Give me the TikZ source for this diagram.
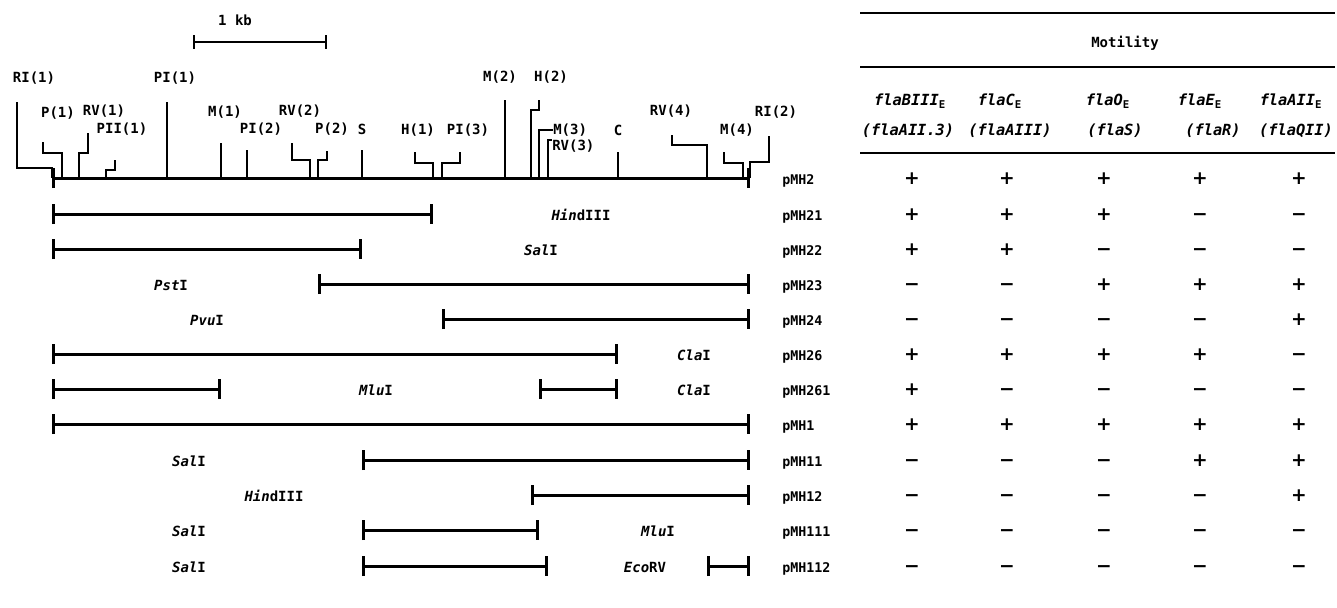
\documentclass[tikz,border=0pt]{standalone}
\usepackage{fontspec}
\setmainfont{DejaVu Sans Mono}
\newfontfamily\signfont{DejaVu Sans}
\usetikzlibrary{arrows.meta}

\tikzset{
  site/.style={font=\bfseries\fontsize{10.5}{12}\selectfont, inner sep=0pt},
  leader/.style={line width=1.5pt},
  fragment/.style={line width=2.25pt, {Bar[width=15pt]}-{Bar[width=15pt]}},
  scalebar/.style={line width=1.5pt, {Bar[width=10pt]}-{Bar[width=10pt]}},
  enzyme/.style={font=\bfseries\fontsize{10.5}{12}\selectfont, inner sep=0pt},
  plasmid/.style={font=\bfseries\fontsize{10}{12}\selectfont, anchor=west, inner sep=0pt},
  gene/.style={font=\bfseries\itshape\fontsize{11.5}{13}\selectfont, inner sep=0pt},
  sign/.style={font=\signfont\bfseries\fontsize{14}{14}\selectfont, inner sep=0pt,
    text height=9pt, text depth=0pt},
  tablerule/.style={line width=1.5pt},
}

\begin{document}
\begin{tikzpicture}[x=0.75pt, y=-0.75pt]
      \useasboundingbox (0,0) rectangle (1337,607);

      % Scale bar
      \node[site] (kb) at (235,20) {1 kb};
      \coordinate (kbl) at (193,42);
      \coordinate (kbr) at (327,42);
      \draw[scalebar] (kbl) -- (kbr);

      % Rows
      \coordinate (row2) at (0,178);
      \coordinate (row21) at (0,214);
      \coordinate (row22) at (0,249);
      \coordinate (row23) at (0,284);
      \coordinate (row24) at (0,319);
      \coordinate (row26) at (0,354);
      \coordinate (row261) at (0,389);
      \coordinate (row1) at (0,424);
      \coordinate (row11) at (0,460);
      \coordinate (row12) at (0,495);
      \coordinate (row111) at (0,530);
      \coordinate (row112) at (0,566);

      % Sites on the map
      \coordinate (RI1) at (52,178);
      \coordinate (P1) at (62,178);
      \coordinate (RV1) at (79,178);
      \coordinate (PII1) at (106,178);
      \coordinate (PI1) at (167,178);
      \coordinate (M1) at (221,178);
      \coordinate (PI2) at (247,178);
      \coordinate (RV2) at (310,178);
      \coordinate (P2) at (318,178);
      \coordinate (S) at (362,178);
      \coordinate (H1) at (433,178);
      \coordinate (PI3) at (442,178);
      \coordinate (M2) at (505,178);
      \coordinate (H2) at (531,178);
      \coordinate (M3) at (539,178);
      \coordinate (RV3) at (548,178);
      \coordinate (C) at (618,178);
      \coordinate (RV4) at (707,178);
      \coordinate (M4) at (743,178);
      \coordinate (RI2) at (750,178);

      %% Labels
      \node[site] (lRI1) at (34,78) {RI(1)};
      \node[site] (lP1) at (58,113) {P(1)};
      \node[site] (lRV1) at (104,111) {RV(1)};
      \node[site] (lPII1) at (122,129) {PII(1)};
      \node[site] (lPI1) at (175,78) {PI(1)};
      \node[site] (lM1) at (225,112) {M(1)};
      \node[site] (lPI2) at (261,129) {PI(2)};
      \node[site] (lRV2) at (300,111) {RV(2)};
      \node[site] (lP2) at (332,129) {P(2)};
      \node[site] (lS) at (362,129) {S};
      \node[site] (lH1) at (418,130) {H(1)};
      \node[site] (lPI3) at (468,130) {PI(3)};
      \node[site] (lM2) at (500,77) {M(2)};
      \node[site] (lH2) at (551,77) {H(2)};
      \node[site, anchor=west] (lM3) at (553,130) {M(3)};
      \node[site, anchor=west] (lRV3) at (552,146) {RV(3)};
      \node[site] (lC) at (618,130) {C};
      \node[site] (lRV4) at (671,111) {RV(4)};
      \node[site] (lM4) at (737,130) {M(4)};
      \node[site] (lRI2) at (776,112) {RI(2)};

      %% Leaders
      \draw[leader] (17,102) |- (52,168) -- (RI1);
      \draw[leader] (43,142) |- (62,153) -- (P1);
      \draw[leader] (88,133) |- (79,153) -- (RV1);
      \draw[leader] (115,160) |- (106,170) -- (PII1);
      \draw[leader] (167,102) -- (PI1);
      \draw[leader] (221,143) -- (M1);
      \draw[leader] (247,150) -- (PI2);
      \draw[leader] (292,143) |- (310,160) -- (RV2);
      \draw[leader] (327,151) |- (318,160) -- (P2);
      \draw[leader] (362,150) -- (S);
      \draw[leader] (415,152) |- (433,163) -- (H1);
      \draw[leader] (460,152) |- (442,163) -- (PI3);
      \draw[leader] (505,100) -- (M2);
      \draw[leader] (539,100) |- (531,110) -- (H2);
      \draw[leader] (lM3.west) -| (M3);
      \draw[leader] (lRV3.west |- 0,140) -| (RV3);
      \draw[leader] (618,152) -- (C);
      \draw[leader] (672,135) |- (707,145) -- (RV4);
      \draw[leader] (724,152) |- (743,163) -- (M4);
      \draw[leader] (769,136) |- (750,162) -- (RI2);

      %%%%%%%%%%%%%%%%%%%%%%%%%%

      % Fragments
      \draw[fragment] (RI1) -- (RI2);
      \draw[fragment] (RI1 |- row21) -- (H1 |- row21);
      \draw[fragment] (RI1 |- row22) -- (S |- row22);
      \draw[fragment] (P2 |- row23) -- (RI2 |- row23);
      \draw[fragment] (PI3 |- row24) -- (RI2 |- row24);
      \draw[fragment] (RI1 |- row26) -- (C |- row26);
      \draw[fragment] (RI1 |- row261) -- (M1 |- row261);
      \draw[fragment] (M3 |- row261) -- (C |- row261);
      \draw[fragment] (RI1 |- row1) -- (RI2 |- row1);
      \draw[fragment] (S |- row11) -- (RI2 |- row11);
      \draw[fragment] (H2 |- row12) -- (RI2 |- row12);
      \draw[fragment] (S |- row111) -- (M3 |- row111);
      \draw[fragment] (S |- row112) -- (RV3 |- row112);
      \draw[fragment] (RV4 |- row112) -- (RI2 |- row112);

      % Enzymes
      \node[enzyme] (e21) at (581,215) {\textit{Hin}dIII};
      \node[enzyme] (e22) at (541,250) {\textit{Sal}I};
      \node[enzyme] (e23) at (171,285) {\textit{Pst}I};
      \node[enzyme] (e24) at (207,320) {\textit{Pvu}I};
      \node[enzyme] (e26) at (694,355) {\textit{Cla}I};
      \node[enzyme] (e261a) at (376,390) {\textit{Mlu}I};
      \node[enzyme] (e261b) at (694,390) {\textit{Cla}I};
      \node[enzyme] (e11) at (189,461) {\textit{Sal}I};
      \node[enzyme] (e12) at (274,496) {\textit{Hin}dIII};
      \node[enzyme] (e111a) at (189,531) {\textit{Sal}I};
      \node[enzyme] (e111b) at (658,531) {\textit{Mlu}I};
      \node[enzyme] (e112a) at (189,567) {\textit{Sal}I};
      \node[enzyme] (e112b) at (645,567) {\textit{Eco}RV};

      % Plasmids
      \node[plasmid] (pMH2) at (782,181) {pMH2};
      \node[plasmid] (pMH21) at (782,217) {pMH21};
      \node[plasmid] (pMH22) at (782,252) {pMH22};
      \node[plasmid] (pMH23) at (782,287) {pMH23};
      \node[plasmid] (pMH24) at (782,322) {pMH24};
      \node[plasmid] (pMH26) at (782,357) {pMH26};
      \node[plasmid] (pMH261) at (782,392) {pMH261};
      \node[plasmid] (pMH1) at (782,427) {pMH1};
      \node[plasmid] (pMH11) at (782,463) {pMH11};
      \node[plasmid] (pMH12) at (782,498) {pMH12};
      \node[plasmid] (pMH111) at (782,533) {pMH111};
      \node[plasmid] (pMH112) at (782,569) {pMH112};

      %%%%%%%%%%%%%%%%%%%%%%%%%%

      % Table
      \coordinate (tl) at (860,0);
      \coordinate (tr) at (1335,0);
      \draw[tablerule] (tl |- 0,13) -- (tr |- 0,13);
      \draw[tablerule] (tl |- 0,67) -- (tr |- 0,67);
      \draw[tablerule] (tl |- 0,153) -- (tr |- 0,153);
      \node[site] (mot) at (1125,43) {Motility};

      \coordinate (col1) at (912,0);
      \coordinate (col2) at (1007,0);
      \coordinate (col3) at (1104,0);
      \coordinate (col4) at (1200,0);
      \coordinate (col5) at (1299,0);

      \node[gene] (g1) at (910,101) {flaBIII\textsubscript{\upshape E}};
      \node[gene] (g2) at (1000,101) {flaC\textsubscript{\upshape E}};
      \node[gene] (g3) at (1108,101) {flaO\textsubscript{\upshape E}};
      \node[gene] (g4) at (1200,101) {flaE\textsubscript{\upshape E}};
      \node[gene] (g5) at (1291,101) {flaAII\textsubscript{\upshape E}};
      \node[gene] (a1) at (908,131) {(flaAII.3)};
      \node[gene] (a2) at (1010,131) {(flaAIII)};
      \node[gene] (a3) at (1115,131) {(flaS)};
      \node[gene] (a4) at (1213,131) {(flaR)};
      \node[gene] (a5) at (1296,131) {(flaQII)};

      % Signs
      \foreach \r/\signs in {row2/{+,+,+,+,+}, row21/{+,+,+,−,−}, row22/{+,+,−,−,−},
          row23/{−,−,+,+,+}, row24/{−,−,−,−,+}, row26/{+,+,+,+,−}, row261/{+,−,−,−,−},
          row1/{+,+,+,+,+}, row11/{−,−,−,+,+}, row12/{−,−,−,−,+}, row111/{−,−,−,−,−},
          row112/{−,−,−,−,−}}
        \foreach \s [count=\c] in \signs
          \node[sign] (s-\r-\c) at (col\c |- \r) {\s};
    \end{tikzpicture}
\end{document}
